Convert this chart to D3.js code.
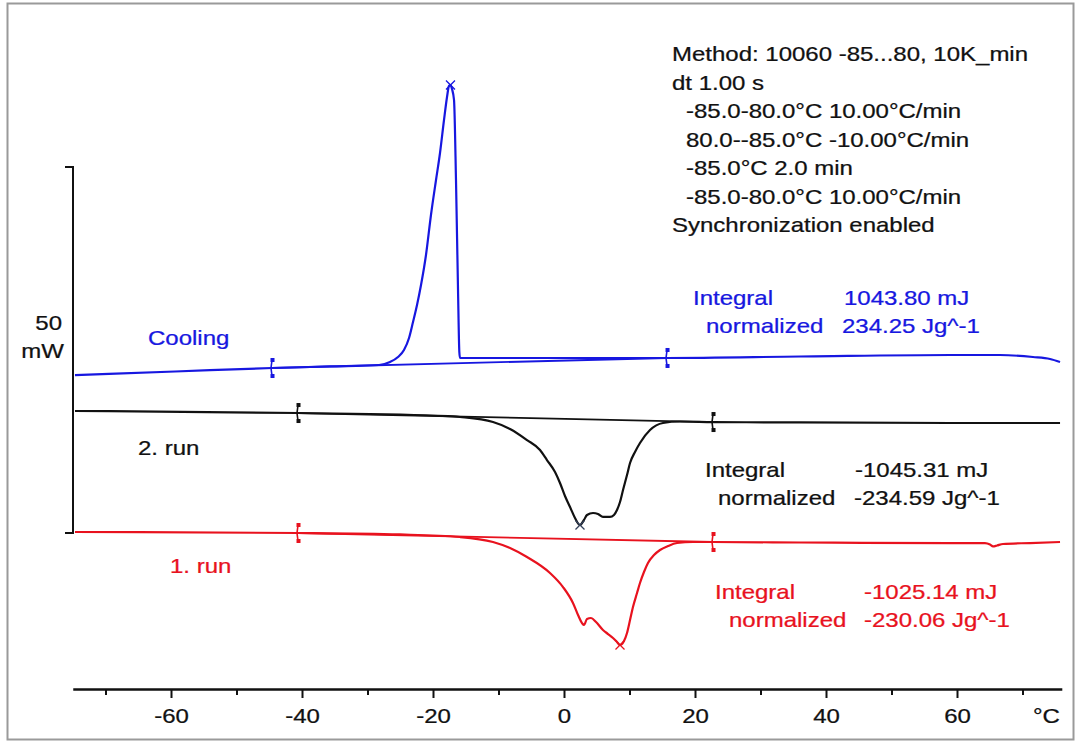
<!DOCTYPE html>
<html>
<head>
<meta charset="utf-8">
<script src="https://cdn.jsdelivr.net/npm/d3@7"></script>
<style>
  html, body { margin: 0; padding: 0; background: #fff; }
  svg { display: block; }
  text { font-family: "Liberation Sans", Arial, sans-serif; font-size: 20px; }
</style>
</head>
<body>
<svg id="chart" width="1078" height="742"></svg>
<script>
// DSC curves: heat flow (mW, plotted with offsets) vs temperature (°C)
const cooling = [
  [-74.66, 21.58], [-59.39, 22.06], [-44.58, 22.54], [-35.73, 22.75], [-28.24, 22.95],
  [-26.56, 23.36], [-25.34, 24.04], [-24.43, 25.00], [-23.66, 26.64], [-23.05, 28.83],
  [-22.44, 31.15], [-21.83, 33.88], [-21.07, 37.98], [-20.31, 43.44], [-19.54, 48.22],
  [-18.93, 51.91], [-18.32, 56.42], [-17.86, 59.56], [-17.56, 61.07], [-17.33, 61.20],
  [-17.10, 60.66], [-16.79, 59.15], [-16.49, 48.22], [-16.18, 33.20], [-15.98, 24.73],
  [-15.88, 23.91], [-14.35, 23.91], [-0.61, 23.91], [15.73, 23.91], [36.03, 24.11],
  [58.93, 24.32], [66.56, 24.32], [71.60, 24.04], [74.20, 23.77], [75.73, 23.36]
];
const run2 = [
  [-74.66, 16.67], [-40.61, 16.39], [-17.71, 15.98], [-15.88, 15.85], [-10.84, 15.16],
  [-8.24, 14.21], [-5.65, 12.70], [-3.66, 11.34], [-2.60, 9.97], [-1.37, 8.33],
  [-0.61, 6.83], [0.15, 5.05], [0.92, 3.55], [1.68, 2.05], [2.44, 1.09],
  [3.05, 1.78], [3.51, 2.46], [4.43, 2.73], [5.19, 2.60], [5.95, 2.19],
  [7.02, 2.19], [7.63, 2.46], [8.09, 3.14], [8.55, 4.23], [9.01, 5.87],
  [9.62, 7.92], [10.08, 9.56], [10.84, 11.07], [11.60, 12.30], [13.13, 14.07],
  [15.11, 15.03], [17.71, 15.23], [22.75, 15.16], [36.03, 15.10], [58.93, 15.03],
  [75.73, 15.03]
];
const run1 = [
  [-74.66, 0.14], [-40.61, 0.00], [-25.04, -0.20], [-15.88, -0.55], [-10.84, -1.23],
  [-8.24, -2.05], [-5.65, -3.28], [-2.14, -5.46], [-0.15, -7.38], [1.37, -9.56],
  [2.14, -11.20], [2.75, -12.30], [3.05, -12.57], [3.51, -11.75], [4.12, -11.61],
  [4.89, -12.16], [5.95, -13.25], [6.72, -13.80], [7.48, -14.34], [8.09, -14.89],
  [8.55, -15.30], [9.16, -14.75], [9.62, -13.66], [10.08, -11.89], [10.53, -10.11],
  [11.15, -8.20], [11.60, -6.83], [12.21, -5.33], [12.82, -4.10], [13.74, -3.01],
  [14.66, -2.32], [15.88, -1.78], [17.25, -1.37], [19.69, -1.23], [22.75, -1.23],
  [36.03, -1.30], [58.93, -1.37], [64.27, -1.37], [65.04, -1.57], [65.50, -1.84],
  [66.11, -1.71], [67.02, -1.50], [71.15, -1.37], [75.73, -1.23]
];

// Integration limits (°C) for each curve
const coolingLimits = [-44.58, 15.73];
const run2Limits = [-40.61, 22.75];
const run1Limits = [-40.61, 22.75];

// Axis ticks
const majorTicks = [-60, -40, -20, 0, 20, 40, 60];
const minorTicks = [-70, -50, -30, -10, 10, 30, 50, 70];
const tickLabels = ["-60", "-40", "-20", "0", "20", "40", "60"];
const axisUnit = "°C";

// Heat-flow scale bar
const scaleBar = [0, 50];
const scaleBarLabels = ["50", "mW"];

// Series labels and integration results
const seriesNames = ["Cooling", "2. run", "1. run"];
const coolingResult = ["Integral", "1043.80 mJ", "normalized", "234.25 Jg^-1"];
const run2Result = ["Integral", "-1045.31 mJ", "normalized", "-234.59 Jg^-1"];
const run1Result = ["Integral", "-1025.14 mJ", "normalized", "-230.06 Jg^-1"];

// Measurement method block
const methodLines = [
  "Method: 10060 -85...80, 10K_min",
  "dt 1.00 s",
  "-85.0-80.0°C 10.00°C/min",
  "80.0--85.0°C -10.00°C/min",
  "-85.0°C 2.0 min",
  "-85.0-80.0°C 10.00°C/min",
  "Synchronization enabled"
];
const methodIndent = [false, false, true, true, true, true, false];

// ---------------------------------------------------------------
const BLUE = "#1717e0";
const RED = "#e8121e";
const BLACK = "#111111";
const SX = 1.2; // horizontal text stretch

const svg = d3.select("#chart");

svg.append("rect").attr("x", 0).attr("y", 0).attr("width", 1078).attr("height", 742).attr("fill", "#fff");
svg.append("rect")
  .attr("x", 7.5).attr("y", 3.5).attr("width", 1066).attr("height", 736)
  .attr("fill", "none").attr("stroke", "#9a9a9a").attr("stroke-width", 2);

const x = d3.scaleLinear().domain([-75, 76]).range([72.75, 1061.8]);
const y = d3.scaleLinear().domain([0, 50]).range([533, 167]);

function label(txt, px, py, color, anchor) {
  const c = color || BLACK;
  return svg.append("text")
    .attr("transform", `translate(${px},${py}) scale(${SX},1)`)
    .attr("text-anchor", anchor || "start")
    .attr("fill", c)
    .attr("stroke", c).attr("stroke-width", 0.25)
    .text(txt);
}

// X axis
const axisY = 689;
const gMinor = svg.append("g").attr("transform", `translate(0,${axisY})`)
  .call(d3.axisBottom(x).tickValues(minorTicks).tickSize(6).tickSizeOuter(0).tickFormat(""));
gMinor.select(".domain").remove();
const gMajor = svg.append("g").attr("transform", `translate(0,${axisY})`)
  .call(d3.axisBottom(x).tickValues(majorTicks).tickSize(9).tickSizeOuter(0)
    .tickFormat((d, i) => tickLabels[i]));
[gMinor, gMajor].forEach(g => {
  g.selectAll(".tick line").attr("stroke", BLACK).attr("stroke-width", 2);
});
gMajor.select(".domain").attr("stroke", BLACK).attr("stroke-width", 2.5);
gMajor.selectAll(".tick text")
  .attr("y", 34).attr("dy", null)
  .attr("fill", BLACK)
  .attr("stroke", BLACK).attr("stroke-width", 0.25)
  .attr("font-size", 20)
  .attr("font-family", '"Liberation Sans", Arial, sans-serif')
  .attr("transform", `scale(${SX},1)`);
label(axisUnit, 1033, 723);

// Scale bar (50 mW)
svg.append("path")
  .attr("d", `M65,${y(scaleBar[1])}H73V${y(scaleBar[0])}H65`)
  .attr("fill", "none").attr("stroke", BLACK).attr("stroke-width", 2);
label(scaleBarLabels[0], 62, 330, BLACK, "end");
label(scaleBarLabels[1], 64, 358, BLACK, "end");

// Curves
const line = d3.line().x(d => x(d[0])).y(d => y(d[1])).curve(d3.curveMonotoneX);

function valueAt(series, t) {
  const i = d3.bisector(d => d[0]).left(series, t);
  if (i <= 0) return series[0][1];
  if (i >= series.length) return series[series.length - 1][1];
  const a = series[i - 1], b = series[i];
  return a[1] + (b[1] - a[1]) * (t - a[0]) / (b[0] - a[0]);
}

// integration-limit tick: short vertical bar with a dot at each end
function limitMarker(px, py, color) {
  const g = svg.append("g").attr("fill", color).attr("stroke", color);
  g.append("path").attr("d", `M${px},${py - 8}L${px - 1},${py}L${px},${py + 8}`)
    .attr("fill", "none").attr("stroke-width", 1.6);
  g.append("rect").attr("x", px - 1.5).attr("y", py - 10).attr("width", 4).attr("height", 4).attr("stroke", "none");
  g.append("rect").attr("x", px - 1.5).attr("y", py + 6).attr("width", 4).attr("height", 4).attr("stroke", "none");
}

function cross(px, py, color) {
  const s = 4.5;
  svg.append("path")
    .attr("d", `M${px - s},${py - s}L${px + s},${py + s}M${px - s},${py + s}L${px + s},${py - s}`)
    .attr("stroke", color).attr("stroke-width", 1.3).attr("fill", "none");
}

function drawCurve(series, limits, color, peakFn) {
  const v0 = valueAt(series, limits[0]);
  const v1 = valueAt(series, limits[1]);
  // integration baseline
  svg.append("line")
    .attr("x1", x(limits[0])).attr("y1", y(v0))
    .attr("x2", x(limits[1])).attr("y2", y(v1))
    .attr("stroke", color).attr("stroke-width", 1.8);
  svg.append("path").datum(series)
    .attr("d", line)
    .attr("fill", "none").attr("stroke", color).attr("stroke-width", 2.2)
    .attr("stroke-linejoin", "round");
  limitMarker(x(limits[0]), y(v0), color);
  limitMarker(x(limits[1]), y(v1), color);
  const inside = series.filter(d => d[0] >= limits[0] && d[0] <= limits[1]);
  const pk = peakFn(inside, d => d[1]);
  cross(x(pk[0]), y(pk[1]), color === BLACK ? "#33405a" : color);
}

drawCurve(cooling, coolingLimits, BLUE, d3.greatest);
drawCurve(run2, run2Limits, BLACK, d3.least);
drawCurve(run1, run1Limits, RED, d3.least);

// Series names
label(seriesNames[0], 148, 345, BLUE);
label(seriesNames[1], 138, 455, BLACK);
label(seriesNames[2], 170, 573, RED);

// Integration results
function result(r, xa, xb, xc, xd, yTop, color) {
  label(r[0], xa, yTop, color);
  label(r[1], xb, yTop, color);
  label(r[2], xc, yTop + 28, color);
  label(r[3], xd, yTop + 28, color);
}
result(coolingResult, 693, 844, 706, 842, 305, BLUE);
result(run2Result, 705, 855, 718, 854, 477, BLACK);
result(run1Result, 715, 864, 729, 864, 599, RED);

// Method block
methodLines.forEach((t, i) => {
  label(t, methodIndent[i] ? 686 : 672, 61 + i * 28.5, BLACK);
});
</script>
</body>
</html>
